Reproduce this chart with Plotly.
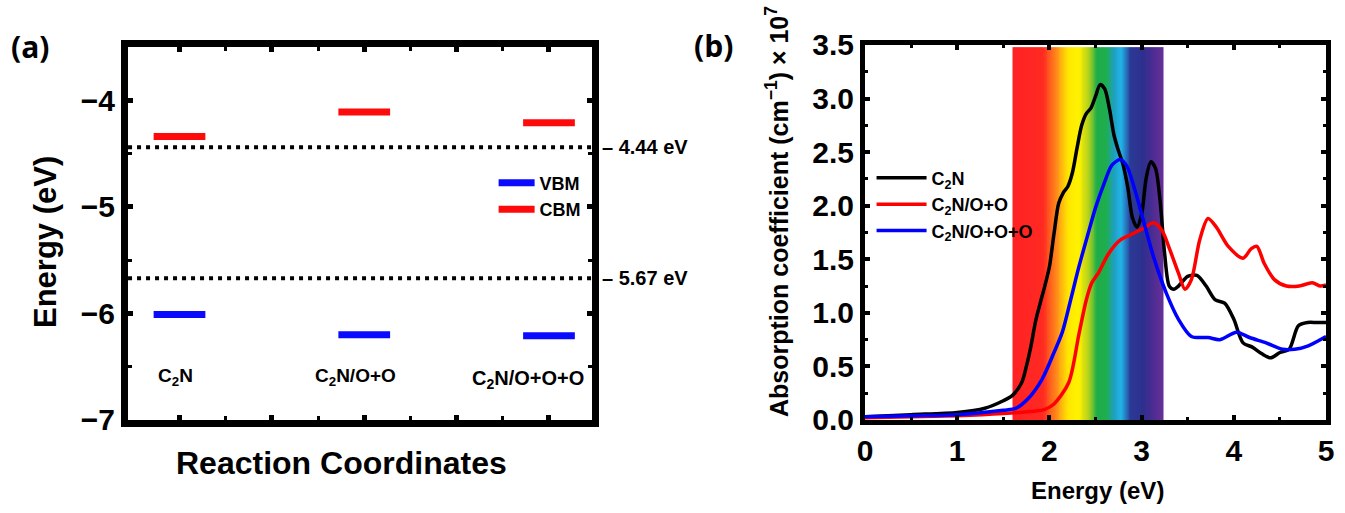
import numpy as np
import plotly.graph_objs as go

# ---- panel (a): band edges ----
systems = ['C<sub>2</sub>N', 'C<sub>2</sub>N/O+O', 'C<sub>2</sub>N/O+O+O']
sys_pos = [1, 3, 5]
vbm = [-6.01, -6.20, -6.21]
cbm = [-4.34, -4.11, -4.21]
ref_levels = [-4.44, -5.67]
ref_labels = ['– 4.44 eV', '– 5.67 eV']

# ---- panel (b): absorption spectra (x 10^7 cm^-1) ----
e_c2n = [0, 0.5, 1.0, 1.3, 1.5, 1.6, 1.7, 1.75, 1.8, 1.85, 1.9, 1.95, 2.0, 2.05, 2.1,
         2.15, 2.2, 2.25, 2.3, 2.35, 2.4, 2.45, 2.5, 2.55, 2.6, 2.65, 2.7, 2.75, 2.8,
         2.85, 2.9, 2.95, 3.0, 3.05, 3.1, 3.15, 3.2, 3.25, 3.3, 3.35, 3.4, 3.5, 3.6,
         3.7, 3.8, 3.9, 4.0, 4.1, 4.2, 4.3, 4.4, 4.5, 4.6, 4.7, 4.8, 4.9, 5.0]
a_c2n = [0.03, 0.05, 0.07, 0.11, 0.18, 0.23, 0.35, 0.5, 0.69, 0.92, 1.09, 1.25, 1.43, 1.74,
         2.02, 2.12, 2.18, 2.31, 2.54, 2.75, 2.86, 2.91, 3.02, 3.13, 3.09, 2.91, 2.66,
         2.51, 2.38, 2.17, 1.89, 1.80, 1.92, 2.26, 2.41, 2.35, 2.05, 1.55, 1.25, 1.22,
         1.25, 1.34, 1.35, 1.25, 1.12, 1.09, 0.94, 0.72, 0.68, 0.62, 0.58, 0.63, 0.66,
         0.88, 0.91, 0.91, 0.91]

e_oo = [0, 0.5, 1.0, 1.5, 1.8, 1.95, 2.05, 2.21, 2.32, 2.4, 2.46, 2.53, 2.64, 2.77, 2.91,
        3.04, 3.13, 3.22, 3.31, 3.40, 3.47, 3.54, 3.63, 3.72, 3.81, 3.94, 4.1, 4.19,
        4.25, 4.33, 4.44, 4.57, 4.71, 4.85, 4.94, 5.0]
a_oo = [0.02, 0.03, 0.04, 0.06, 0.08, 0.1, 0.15, 0.35, 0.8, 1.12, 1.28, 1.37, 1.55, 1.68,
        1.74, 1.80, 1.84, 1.77, 1.58, 1.37, 1.22, 1.31, 1.68, 1.88, 1.80, 1.62, 1.51,
        1.60, 1.62, 1.46, 1.31, 1.25, 1.25, 1.28, 1.25, 1.26]

e_ooo = [0, 0.5, 1.0, 1.5, 1.64, 1.77, 1.92, 2.05, 2.14, 2.23, 2.32, 2.42, 2.5, 2.59, 2.68,
         2.77, 2.84, 2.93, 3.02, 3.13, 3.27, 3.4, 3.54, 3.72, 3.85, 4.03, 4.17, 4.35,
         4.53, 4.66, 4.8, 5.0]
a_ooo = [0.03, 0.04, 0.05, 0.09, 0.11, 0.2, 0.38, 0.63, 0.82, 1.12, 1.43, 1.74, 1.98, 2.2,
         2.38, 2.43, 2.37, 2.14, 1.86, 1.52, 1.18, 0.94, 0.78, 0.77, 0.75, 0.82, 0.77,
         0.72, 0.66, 0.66, 0.69, 0.78]

# visible spectrum band behind the curves
band_stops = [1.60, 1.93, 2.08, 2.20, 2.32, 2.42, 2.52, 2.62, 2.70, 2.78, 2.88, 3.02, 3.12, 3.24]
band_colors = ['#ff2124', '#ff2a22', '#ff8c1a', '#ffe600', '#fff200', '#b8d41a', '#1fad4a',
               '#1fae4c', '#1e9fbf', '#21b4e8', '#2b3a95', '#2d2f8e', '#4a2c90', '#682f99']
band_top = 3.48

SANS = 'Liberation Sans, Arial, sans-serif'
W, H = 1345, 513
half_w = 0.28

fig = go.Figure()

# bars of panel (a), one trace per kind so the legend has two entries
for name, vals, col in [('VBM', vbm, '#0a0aff'), ('CBM', cbm, '#ff0a0a')]:
    xs, ys = [], []
    for p, v in zip(sys_pos, vals):
        xs += [p - half_w, p + half_w, None]
        ys += [v, v, None]
    fig.add_trace(go.Scatter(x=xs, y=ys, mode='lines', name=name,
                             line=dict(color=col, width=7), legend='legend',
                             xaxis='x', yaxis='y'))

for lv in ref_levels:
    fig.add_trace(go.Scatter(x=[0.443, 5.465], y=[lv, lv], mode='lines', showlegend=False,
                             line=dict(color='black', width=4, dash='4px,5px'),
                             xaxis='x', yaxis='y'))

# spectrum band
edges = np.linspace(band_stops[0], band_stops[-1], 165)
centers = (edges[:-1] + edges[1:]) / 2
lo, hi = band_stops[0], band_stops[-1]
cscale = [[(s - lo) / (hi - lo), c] for s, c in zip(band_stops, band_colors)]
fig.add_trace(go.Heatmap(x=edges, y=[0, band_top], z=[centers], colorscale=cscale,
                         zmin=lo, zmax=hi, showscale=False, hoverinfo='skip',
                         xaxis='x2', yaxis='y2'))

for name, ex, ay, col in [('C<sub>2</sub>N', e_c2n, a_c2n, 'black'),
                          ('C<sub>2</sub>N/O+O', e_oo, a_oo, '#ff0000'),
                          ('C<sub>2</sub>N/O+O+O', e_ooo, a_ooo, '#0000ff')]:
    fig.add_trace(go.Scatter(x=ex, y=ay, mode='lines', name=name,
                             line=dict(color=col, width=3.5, shape='spline', smoothing=0.8),
                             legend='legend2', xaxis='x2', yaxis='y2'))

frame = dict(showline=True, linecolor='black', mirror='allticks', ticks='inside',
             tickcolor='black', showgrid=False, zeroline=False, automargin=False)

fig.update_layout(
    width=W, height=H,
    margin=dict(l=0, r=0, t=0, b=0, pad=0, autoexpand=False),
    paper_bgcolor='white', plot_bgcolor='white',
    font=dict(family=SANS, color='black'),
    xaxis=dict(frame, domain=[0.0952, 0.4401], range=[0.443, 5.465],
               tickvals=sys_pos + [2, 4], showticklabels=False, linewidth=7,
               ticklen=5, tickwidth=5,
               minor=dict(tickvals=[1.5, 2.5, 3.5, 4.5], ticklen=4, tickwidth=3,
                          ticks='inside', tickcolor='black')),
    yaxis=dict(frame, domain=[0.1813, 0.9084], range=[-7, -3.5],
               tickvals=[-7, -6, -5, -4], linewidth=7, ticklen=5, tickwidth=5,
               tickfont=dict(size=30, weight='bold'),
               minor=dict(tickvals=[-6.5, -5.5, -4.5], ticklen=4, tickwidth=3,
                          ticks='inside', tickcolor='black')),
    xaxis2=dict(frame, domain=[0.6431, 0.9859], range=[0, 5], dtick=1, anchor='y2',
                linewidth=5, ticklen=5, tickwidth=4,
                tickfont=dict(size=30, weight='bold'),
                minor=dict(dtick=0.5, ticklen=3, tickwidth=3, ticks='inside',
                           tickcolor='black')),
    yaxis2=dict(frame, domain=[0.1813, 0.9123], range=[0, 3.5], dtick=0.5, anchor='x2',
                tickformat='.1f', linewidth=5, ticklen=5, tickwidth=4,
                tickfont=dict(size=30, weight='bold'),
                minor=dict(dtick=0.25, ticklen=3, tickwidth=3, ticks='inside',
                           tickcolor='black')),
    legend=dict(x=0.367, y=0.679, xanchor='left', yanchor='top', bgcolor='rgba(0,0,0,0)',
                font=dict(size=18, weight='bold'), tracegroupgap=0, itemwidth=36),
    legend2=dict(x=0.648, y=0.689, xanchor='left', yanchor='top', bgcolor='rgba(0,0,0,0)',
                 font=dict(size=18, weight='bold'), tracegroupgap=0, itemwidth=50),
)


def note(px, py, text, size, angle=0, family=SANS, weight='bold', xanchor='center'):
    # place a text by its pixel centre on the canvas
    fig.add_annotation(x=px / W, y=1 - py / H, xref='paper', yref='paper', text=text,
                       textangle=angle, showarrow=False, xanchor=xanchor, yanchor='middle',
                       font=dict(family=family, size=size, weight=weight))


# category labels inside panel (a)
for txt, xp, yp, sz in zip(systems, [0.96, 2.91, 4.77], [-6.6, -6.6, -6.62], [19, 19, 20]):
    fig.add_annotation(x=xp, y=yp, xref='x', yref='y', text=txt, showarrow=False,
                       xanchor='center', yanchor='middle',
                       font=dict(size=sz, weight='bold'))

for lv, lab in zip(ref_levels, ref_labels):
    fig.add_annotation(x=600 / W, y=lv, xref='paper', yref='y', text=lab, showarrow=False,
                       xanchor='left', yanchor='middle',
                       font=dict(size=20, weight='bold'))

# titles and panel letters
note(45, 242, 'Energy (eV)', 31, angle=-90)
note(342, 463, 'Reaction Coordinates', 32)
note(1097, 490, 'Energy (eV)', 24)
note(777, 212, 'Absorption coefficient (cm<sup>−1</sup>) × 10<sup>7</sup>', 25, angle=-90)
note(30, 46, '(a)', 30, family='Open Sans')
note(713, 45, '(b)', 30, family='Open Sans')

# the page body has a default 8px margin; drop it so the figure sits at the corner
fig.write_html('out.html', config={'displayModeBar': False},
               post_script="document.body.style.margin='0';")
